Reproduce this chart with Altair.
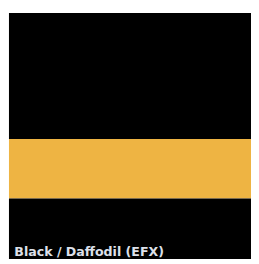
import altair as alt
import pandas as pd

band_names = ["Black (top)", "Daffodil", "Black (bottom)"]
band_start = [0, 51.2, 75.4]
band_end = [51.2, 75.4, 100]
band_colors = ["#000000", "#EEB443", "#000000"]
label_text = ["Black / Daffodil (EFX)"]

bands = pd.DataFrame({"name": band_names, "start": band_start, "end": band_end, "color": band_colors})
labels = pd.DataFrame({"label": label_text, "x": [2.2], "y": [97.3]})

yscale = alt.Scale(domain=[0, 100], reverse=True, nice=False, zero=False)
xscale = alt.Scale(domain=[0, 100], nice=False, zero=False)

rects = alt.Chart(bands).mark_rect().encode(
    x=alt.value(0),
    x2=alt.value("width"),
    y=alt.Y("start:Q", scale=yscale, axis=None),
    y2="end:Q",
    color=alt.Color("color:N", scale=None),
)

text = alt.Chart(labels).mark_text(
    align="left", baseline="middle", color="#DDE0EA", fontWeight="bold",
    font="DejaVu Sans", fontSize=13
).encode(
    x=alt.X("x:Q", scale=xscale, axis=None),
    y=alt.Y("y:Q", scale=yscale, axis=None),
    text="label:N",
)

chart = alt.layer(rects, text).properties(
    width=251, height=256,
    autosize=alt.AutoSizeParams(type="fit", contains="padding"),
    padding={"left": 1, "top": 1, "right": 0, "bottom": 0},
).configure_view(stroke=None)

chart.save("out.html", embed_options={"renderer": "svg", "actions": False})
